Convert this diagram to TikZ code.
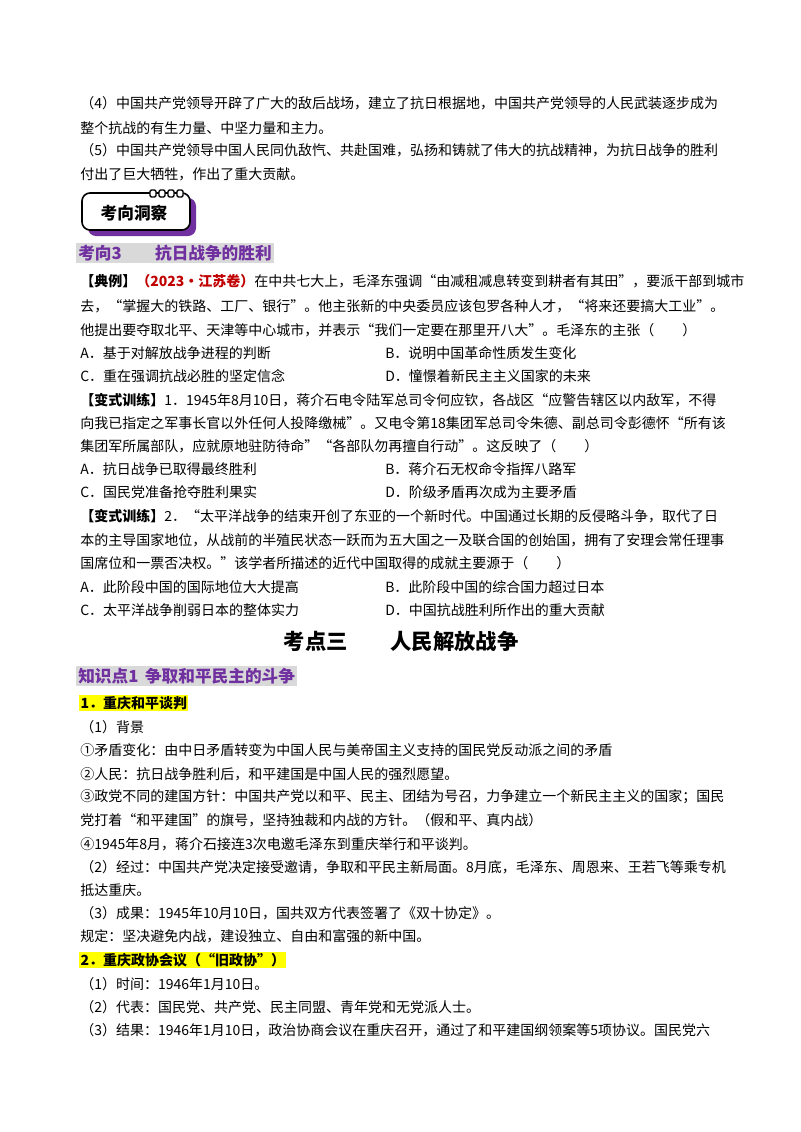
\documentclass[tikz,border=0pt]{standalone}
\usepackage{fontspec}
\setmainfont{Noto Sans CJK SC}
\definecolor{pur}{RGB}{112,48,160}
\definecolor{bg}{RGB}{217,217,217}
\definecolor{redd}{RGB}{192,0,0}
\definecolor{yel}{RGB}{255,255,0}
\begin{document}
\begin{tikzpicture}[x=0.75pt,y=-0.75pt,
  t/.style={anchor=west,inner sep=0pt,font=\fontsize{10.5}{12}\selectfont},
  hd/.style={anchor=west,inner sep=1.5pt,fill=bg,text=pur,font=\fontsize{12.5}{13}\selectfont\bfseries},
  hy/.style={anchor=west,inner sep=1pt,fill=yel,font=\fontsize{10.5}{12}\selectfont\bfseries}]
\useasboundingbox (0,0) rectangle (800,1132);
\node[t] (l1) at (80,103) {（4）中国共产党领导开辟了广大的敌后战场，建立了抗日根据地，中国共产党领导的人民武装逐步成为};
\node[t] (l2) at (80,128) {整个抗战的有生力量、中坚力量和主力。};
\node[t] (l3) at (80,150) {（5）中国共产党领导中国人民同仇敌忾、共赴国难，弘扬和铸就了伟大的抗战精神，为抗日战争的胜利};
\node[t] (l4) at (80,174) {付出了巨大牺牲，作出了重大贡献。};
% badge
\fill[pur,rounded corners=6pt] (88,198) rectangle (196,236);
\draw[line width=1.2pt,fill=white,rounded corners=6pt] (82,193) rectangle (190,230);
\foreach \i in {0,1,2,3}{\draw[line width=1pt,fill=white,rounded corners=1pt] (150+\i*9,190) rectangle (156+\i*9,197);}
\node[font=\fontsize{12.5}{12}\selectfont\bfseries] (bd) at (134,213) {考向洞察};
\node[hd] (h1) at (76,253) {考向3\hspace{2em}抗日战争的胜利};
\node[t] (q1) at (80,281) {\textbf{【典例】}\textcolor{redd}{\textbf{（2023·江苏卷）}}在中共七大上，毛泽东强调“由减租减息转变到耕者有其田”，要派干部到城市};
\node[t] (q2) at (80,306) {去，“掌握大的铁路、工厂、银行”。他主张新的中央委员应该包罗各种人才，“将来还要搞大工业”。};
\node[t] (q3) at (80,330) {他提出要夺取北平、天津等中心城市，并表示“我们一定要在那里开八大”。毛泽东的主张（\hspace{2em}）};
\node[t] (a1) at (80,353) {A．基于对解放战争进程的判断};
\node[t] (b1) at (385,353) {B．说明中国革命性质发生变化};
\node[t] (c1) at (80,376) {C．重在强调抗战必胜的坚定信念};
\node[t] (d1) at (385,376) {D．憧憬着新民主主义国家的未来};
\node[t] (r1) at (80,400) {\textbf{【变式训练】}1．1945年8月10日，蒋介石电令陆军总司令何应钦，各战区“应警告辖区以内敌军，不得};
\node[t] (r2) at (80,423) {向我已指定之军事长官以外任何人投降缴械”。又电令第18集团军总司令朱德、副总司令彭德怀“所有该};
\node[t] (r3) at (80,446) {集团军所属部队，应就原地驻防待命”“各部队勿再擅自行动”。这反映了（\hspace{2em}）};
\node[t] (a2) at (80,469) {A．抗日战争已取得最终胜利};
\node[t] (b2) at (385,469) {B．蒋介石无权命令指挥八路军};
\node[t] (c2) at (80,492) {C．国民党准备抢夺胜利果实};
\node[t] (d2) at (385,492) {D．阶级矛盾再次成为主要矛盾};
\node[t] (s1) at (80,516) {\textbf{【变式训练】}2．“太平洋战争的结束开创了东亚的一个新时代。中国通过长期的反侵略斗争，取代了日};
\node[t] (s2) at (80,540) {本的主导国家地位，从战前的半殖民状态一跃而为五大国之一及联合国的创始国，拥有了安理会常任理事};
\node[t] (s3) at (80,563) {国席位和一票否决权。”该学者所描述的近代中国取得的成就主要源于（\hspace{2em}）};
\node[t] (a3) at (80,587) {A．此阶段中国的国际地位大大提高};
\node[t] (b3) at (385,587) {B．此阶段中国的综合国力超过日本};
\node[t] (c3) at (80,610) {C．太平洋战争削弱日本的整体实力};
\node[t] (d3) at (385,610) {D．中国抗战胜利所作出的重大贡献};
\node[font=\fontsize{16}{17}\selectfont\bfseries] (tt) at (401,641) {考点三\hspace{2em}人民解放战争};
\node[hd] (h2) at (76,676) {知识点1\hspace{0.4em}争取和平民主的斗争};
\node[hy] (y1) at (79,703) {1．重庆和平谈判};
\node[t] (k1) at (80,727) {（1）背景};
\node[t] (k2) at (80,750) {①矛盾变化：由中日矛盾转变为中国人民与美帝国主义支持的国民党反动派之间的矛盾};
\node[t] (k3) at (80,774) {②人民：抗日战争胜利后，和平建国是中国人民的强烈愿望。};
\node[t] (k4) at (80,797) {③政党不同的建国方针：中国共产党以和平、民主、团结为号召，力争建立一个新民主主义的国家；国民};
\node[t] (k5) at (80,820) {党打着“和平建国”的旗号，坚持独裁和内战的方针。（假和平、真内战）};
\node[t] (k6) at (80,844) {④1945年8月，蒋介石接连3次电邀毛泽东到重庆举行和平谈判。};
\node[t] (k7) at (80,867) {（2）经过：中国共产党决定接受邀请，争取和平民主新局面。8月底，毛泽东、周恩来、王若飞等乘专机};
\node[t] (k8) at (80,890) {抵达重庆。};
\node[t] (k9) at (80,913) {（3）成果：1945年10月10日，国共双方代表签署了《双十协定》。};
\node[t] (k10) at (80,936) {规定：坚决避免内战，建设独立、自由和富强的新中国。};
\node[hy] (y2) at (79,960) {2．重庆政协会议（“旧政协”）};
\node[t] (m1) at (80,984) {（1）时间：1946年1月10日。};
\node[t] (m2) at (80,1007) {（2）代表：国民党、共产党、民主同盟、青年党和无党派人士。};
\node[t] (m3) at (80,1030) {（3）结果：1946年1月10日，政治协商会议在重庆召开，通过了和平建国纲领案等5项协议。国民党六};
\end{tikzpicture}
\end{document}
